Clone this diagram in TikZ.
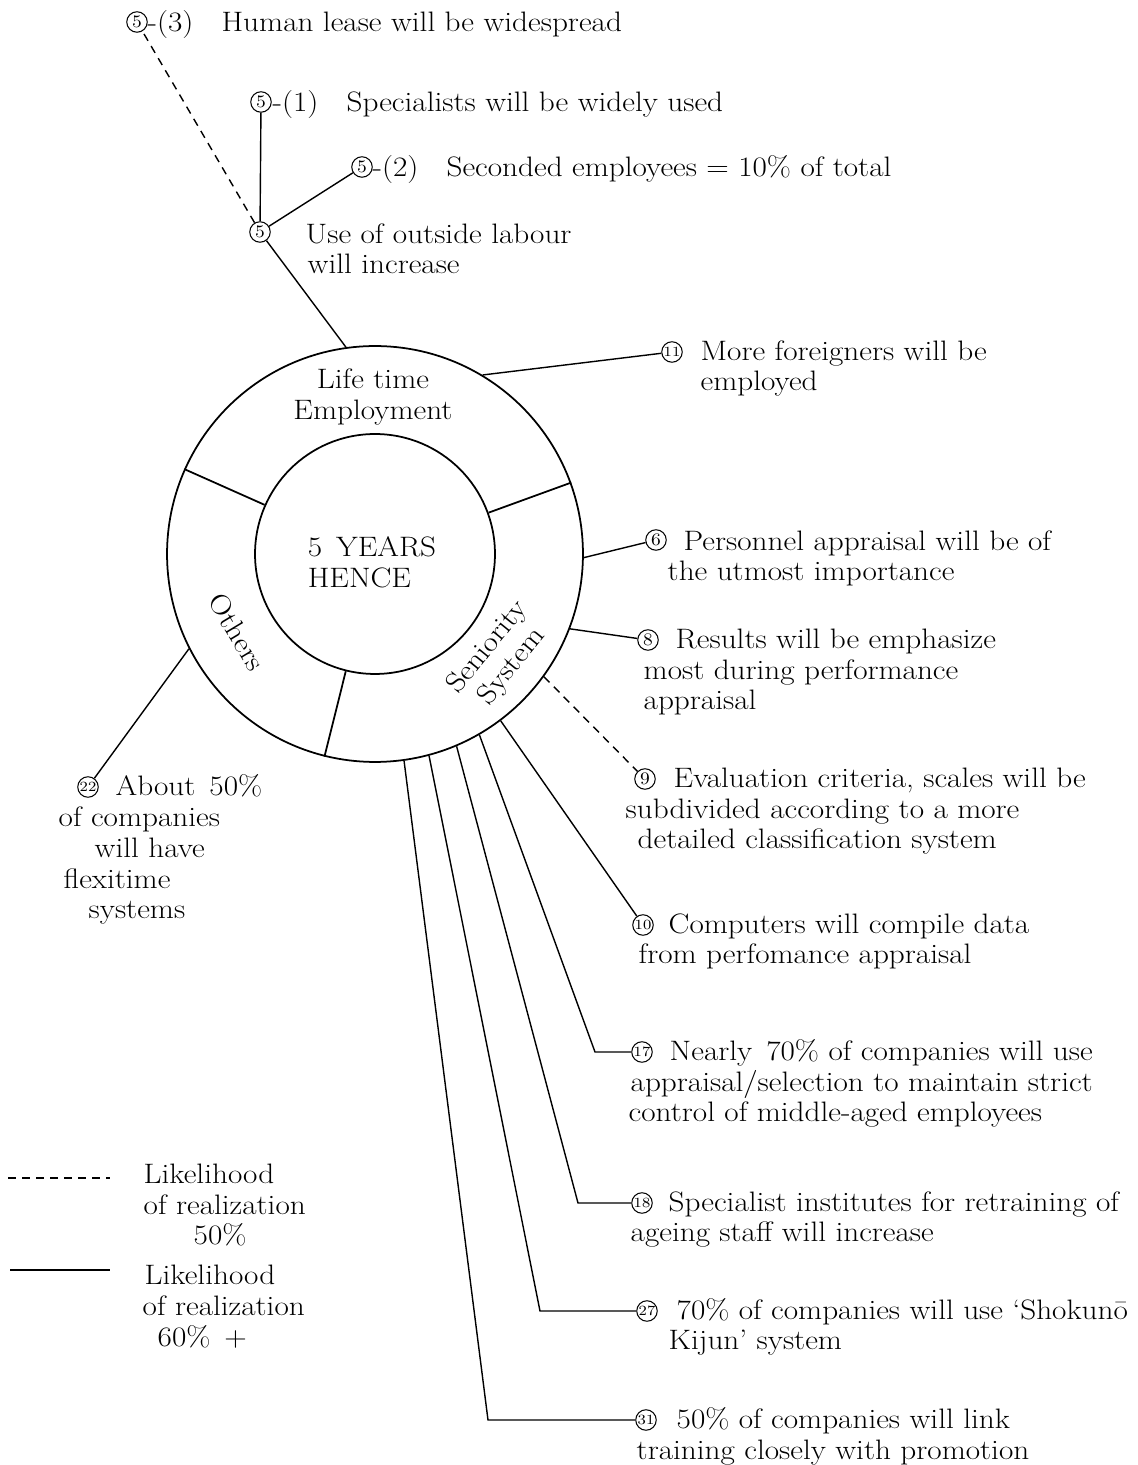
\documentclass[tikz,border=0pt]{standalone}
\usepackage{amsmath, amssymb}
\usepackage{fontspec}
\setmainfont{Latin Modern Roman}[FakeStretch=1.11]

\newdimen\unitpx \unitpx=0.02cm
\newcommand{\ind}[1]{\hspace*{#1\unitpx}}

\begin{document}
\begin{tikzpicture}
        [x=0.02cm, y=0.02cm, line width=0.8pt,
        every node/.style={font=\fontsize{16}{17.6}\selectfont, inner sep=0},
        num/.style={draw, shape=circle, line width=0.6pt, minimum size=0.41cm, font=\fontsize{10}{10}\selectfont},
        numtwo/.style={num, font=\fontsize{8}{8}\selectfont},
        txt/.style={anchor=base west, align=left},
        sector/.style={align=center},
        likely50/.style={dash pattern=on 4.5pt off 3.5pt}]

        \useasboundingbox (0, 0) rectangle (1138, 1465);

        % the ring
        \node[draw, shape=circle, line width=1pt, minimum size=8.32cm] (ring) at (375, 911) {};
        \node[draw, shape=circle, line width=1pt, minimum size=4.8cm] (hub) at (375, 911) {};
        \draw[line width=1pt] (hub.156) -- (ring.156);
        \draw[line width=1pt] (hub.20) -- (ring.20);
        \draw[line width=1pt] (hub.-104) -- (ring.-104);

        \node[align=left] (core) at (372, 903) {5\enspace YEARS\\HENCE};
        \node[sector] (life) at (373, 1068) {Life time\\Employment};
        \node[rotate=-59] (others) at (237, 833) {Others};
        \node[sector, rotate=51] (senior) at (500, 808) {Seniority\\System};

        % circled numbers
        \node[num] (n5) at (260, 1233) {5};
        \node[num] (n5a) at (261, 1363) {5};
        \node[num] (n5b) at (362, 1298) {5};
        \node[num] (n5c) at (137, 1443) {5};
        \node[numtwo] (n11) at (672, 1113) {11};
        \node[num] (n6) at (656, 925) {6};
        \node[num] (n8) at (648, 825) {8};
        \node[num] (n9) at (645, 686) {9};
        \node[numtwo] (n10) at (643, 540) {10};
        \node[numtwo] (n17) at (642, 413) {17};
        \node[numtwo] (n18) at (642, 262) {18};
        \node[numtwo] (n27) at (647, 154) {27};
        \node[numtwo] (n31) at (646, 45) {31};
        \node[numtwo] (n22) at (88, 678) {22};

        % texts (base = last line)
        \node[txt] (t5c) at (147, 1433.5) {-(3)\quad Human lease will be widespread};
        \node[txt] (t5a) at (272, 1353.5) {-(1)\quad Specialists will be widely used};
        \node[txt] (t5b) at (372, 1288.5) {-(2)\quad Seconded employees = 10\% of total};
        \node[txt] (t5) at (305, 1191) {Use of outside labour\\\ind{2}will increase};
        \node[txt] (t11) at (700, 1074) {More foreigners will be\\employed};
        \node[txt] (t6) at (667, 884) {\ind{16}Personnel appraisal will be of\\the utmost importance};
        \node[txt] (t8) at (643, 755) {\ind{32}Results will be emphasize\\most during performance\\appraisal};
        \node[txt] (t9) at (625, 616) {\ind{48}Evaluation criteria, scales will be\\subdivided according to a more\\\ind{12}detailed classification system};
        \node[txt] (t10) at (638, 501) {\ind{30}Computers will compile data\\from perfomance appraisal};
        \node[txt] (t17) at (628, 343) {\ind{41}Nearly\enspace 70\% of companies will use\\\ind{2}appraisal/selection to maintain strict\\control of middle-aged employees};
        \node[txt] (t18) at (630, 223) {\ind{38}Specialist institutes for retraining of\\ageing staff will increase};
        \node[txt] (t27) at (668, 115) {\ind{8}70\% of companies will use `Shokunō\\Kijun' system};
        \node[txt] (t31) at (636, 6) {\ind{40}50\% of companies will link\\training closely with promotion};
        \node[txt] (t22) at (58, 546) {\ind{57}About\enspace 50\%\\of companies\\\ind{36}will have\\\ind{5}flexitime\\\ind{30}systems};

        % bends
        \coordinate (k17) at (595, 413);
        \coordinate (k18) at (578, 262);
        \coordinate (k27) at (540, 154);
        \coordinate (k31) at (488, 45);

        \draw (ring.98) -- (n5);
        \draw (n5) -- (n5a);
        \draw (n5) -- (n5b);
        \draw[likely50] (n5) -- (n5c);
        \draw (ring.59) -- (n11);
        \draw (ring.-1) -- (n6);
        \draw (ring.-21) -- (n8);
        \draw[likely50] (ring.-36) -- (n9);
        \draw (ring.-53) -- (n10);
        \draw (ring.-60) -- (k17) -- (n17);
        \draw (ring.-67.5) -- (k18) -- (n18);
        \draw (ring.-75.5) -- (k27) -- (n27);
        \draw (ring.-82.5) -- (k31) -- (n31);
        \draw (ring.207) -- (n22);

        % legend
        \draw[likely50] (8, 287) -- (110, 287);
        \draw (10, 195) -- (110, 195);
        \node[txt] (leg50) at (143, 220) {Likelihood\\of realization\\\ind{50}50\%};
        \node[txt] (leg60) at (142, 119) {\ind{2}Likelihood\\of realization\\\ind{15}60\%\enspace +};
      \end{tikzpicture}
\end{document}
